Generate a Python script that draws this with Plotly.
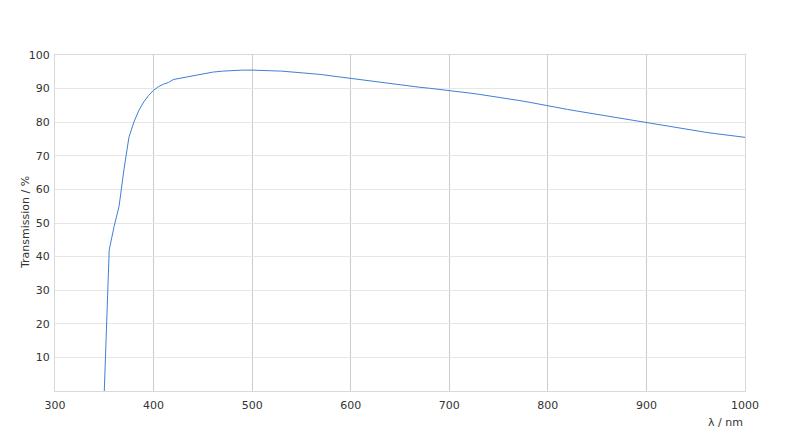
import plotly.graph_objects as go

# Wellenlaenge (nm) und Transmission (%)
wavelength = [350, 355, 360, 365, 370, 375, 380, 385, 390, 395,
              400, 405, 410, 415, 420, 430, 440, 450, 460, 470,
              480, 490, 500, 510, 520, 530, 540, 550, 560, 570,
              580, 590, 600, 610, 620, 630, 640, 650, 660, 670,
              680, 690, 700, 710, 720, 730, 740, 750, 760, 770,
              780, 790, 800, 810, 820, 830, 840, 850, 860, 870,
              880, 890, 900, 910, 920, 930, 940, 950, 960, 970,
              980, 990, 1000]
transmission = [0.0, 42.0, 49.0, 55.0, 66.0, 75.5, 80.0, 83.5, 86.0, 88.0,
                89.5, 90.6, 91.3, 91.8, 92.7, 93.3, 93.9, 94.5, 94.9, 95.2,
                95.4, 95.5, 95.5, 95.5, 95.3, 95.2, 95.0, 94.7, 94.5, 94.2,
                93.8, 93.4, 93.0, 92.7, 92.3, 92.0, 91.6, 91.2, 90.8, 90.4,
                90.1, 89.8, 89.5, 89.1, 88.7, 88.3, 87.9, 87.5, 87.0, 86.5,
                86.0, 85.4, 84.8, 84.3, 83.8, 83.3, 82.8, 82.3, 81.8, 81.3,
                80.8, 80.4, 80.0, 79.4, 78.9, 78.4, 77.9, 77.5, 77.0, 76.6,
                76.2, 75.8, 75.5]

x_ticks = [300, 400, 500, 600, 700, 800, 900, 1000]
y_ticks = [10, 20, 30, 40, 50, 60, 70, 80, 90, 100]

fig = go.Figure()
fig.add_trace(go.Scatter(x=wavelength, y=transmission, mode="lines",
                         line=dict(color="#3f7fd6", width=1),
                         showlegend=False, hoverinfo="x+y"))

# die Seite hat 8px Rand, deshalb etwas kleiner
fig.update_layout(
    width=784, height=430,
    margin=dict(l=47, r=47, t=47, b=47),
    paper_bgcolor="white", plot_bgcolor="white",
    font=dict(family="DejaVu Sans", size=11, color="#333333"),
    xaxis=dict(range=[300, 1000], tickvals=x_ticks, showgrid=True,
               gridcolor="#cccccc", gridwidth=1, zeroline=False,
               showline=True, linecolor="#d9d9d9", linewidth=1, mirror=True,
               ticks="outside", ticklen=4, tickcolor="rgba(0,0,0,0)"),
    yaxis=dict(range=[0, 100], tickvals=y_ticks, showgrid=True,
               gridcolor="#e6e6e6", gridwidth=1, zeroline=False,
               showline=True, linecolor="#d9d9d9", linewidth=1, mirror=True,
               ticks="outside", ticklen=2, tickcolor="rgba(0,0,0,0)"),
    annotations=[
        dict(text="λ / nm", xref="paper", yref="paper", x=1, y=0,
             xanchor="right", yanchor="top", yshift=-23, showarrow=False,
             font=dict(size=11, color="#333333")),
        dict(text="Transmission / %", xref="paper", yref="paper", x=0, y=0.5,
             xanchor="center", yanchor="middle", xshift=-30, textangle=-90,
             showarrow=False, font=dict(size=11, color="#333333")),
    ],
)

fig.write_html("out.html")
